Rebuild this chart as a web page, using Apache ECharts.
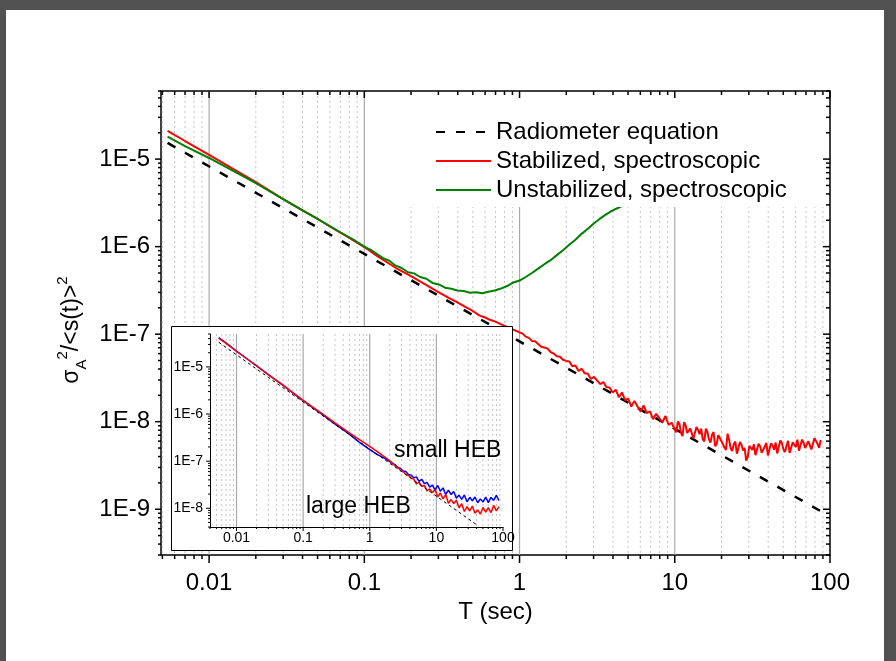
<!DOCTYPE html>
<html>
<head>
<meta charset="utf-8">
<script src="https://cdn.jsdelivr.net/npm/echarts@6/dist/echarts.min.js"></script>
<style>
  html, body { margin: 0; padding: 0; background: #525252; }
  #paper { position: absolute; left: 6px; top: 10px; width: 878px; height: 651px; background: #fff; }
  #main { position: absolute; left: 0; top: 0; width: 896px; height: 661px; }
</style>
</head>
<body>
<div id="paper"></div>
<div id="main"></div>
<script>
// ---- data ----
var radiometerT = [0.0054, 90];
var radiometerV = [1.53e-5, 9.2e-10];

var stabT = [0.0054, 0.007, 0.01, 0.015, 0.02, 0.03, 0.04, 0.05, 0.07, 0.1, 0.12, 0.135, 0.16, 0.2, 0.25, 0.3, 0.35, 0.4, 0.45, 0.5, 0.55, 0.6, 0.65, 0.7, 0.75, 0.85,
  1.0, 1.047, 1.096, 1.148, 1.202, 1.259, 1.318, 1.38, 1.445, 1.514, 1.585, 1.66, 1.738, 1.82, 1.905, 1.995,
  2.089, 2.188, 2.291, 2.399, 2.512, 2.63, 2.754, 2.884, 3.02, 3.162, 3.311, 3.467, 3.631, 3.802, 3.981,
  4.169, 4.365, 4.571, 4.786, 5.012, 5.248, 5.495, 5.754, 6.026, 6.31, 6.607, 6.918, 7.244, 7.586, 7.943, 8.318, 8.71, 9.12, 9.55, 10.0,
  10.47, 10.96, 11.48, 12.02, 12.59, 13.18, 13.8, 14.45, 15.14, 15.85, 16.6, 17.38, 18.2, 19.05, 19.95, 20.89, 21.88, 22.91, 23.99, 25.12,
  26.3, 27.54, 28.84, 30.2, 31.62, 33.11, 34.67, 36.31, 38.02, 39.81, 41.69, 43.65, 45.71, 47.86, 50.12, 52.48, 54.95, 57.54, 60.26, 63.1,
  66.07, 69.18, 72.44, 75.86, 79.43, 83.18, 87.1];
var stabV = [2.1e-5, 1.61e-5, 1.12e-5, 7.35e-6, 5.45e-6, 3.5e-6, 2.6e-6, 2.07e-6, 1.45e-6, 9.9e-7, 7.9e-7, 6.9e-7, 5.7e-7, 4.6e-7, 3.65e-7, 3.03e-7, 2.6e-7, 2.3e-7, 2.04e-7, 1.84e-7, 1.64e-7, 1.55e-7, 1.45e-7, 1.39e-7, 1.31e-7, 1.19e-7,
  1.05e-7, 1.015e-7, 9.37e-8, 9.08e-8, 8.38e-8, 8.29e-8, 7.73e-8, 7.2e-8, 7.05e-8, 6.84e-8, 6.25e-8, 6.0e-8, 5.59e-8, 5.53e-8, 5.1e-8, 4.95e-8,
  4.89e-8, 4.3e-8, 4.38e-8, 3.8e-8, 4.03e-8, 3.57e-8, 3.54e-8, 3.07e-8, 3.26e-8, 2.95e-8, 2.69e-8, 2.84e-8, 2.47e-8, 2.46e-8, 2.15e-8,
  2.32e-8, 1.9e-8, 2.16e-8, 1.76e-8, 1.83e-8, 1.49e-8, 1.73e-8, 1.49e-8, 1.31e-8, 1.53e-8, 1.25e-8, 1.31e-8, 1.07e-8, 1.23e-8, 1.1e-8, 9.82e-9, 1.16e-8, 9.22e-9, 9.72e-9, 8.12e-9,
  1.006e-8, 7.47e-9, 9.89e-9, 7.44e-9, 8.38e-9, 6.43e-9, 8.71e-9, 7.19e-9, 6.31e-9, 8.34e-9, 6.31e-9, 7.08e-9, 5.25e-9, 7.04e-9, 6.01e-9, 5.07e-9, 7.29e-9, 4.98e-9, 5.54e-9, 4.31e-9,
  5.85e-9, 4.69e-9, 3.6e-9, 5.31e-9, 4.75e-9, 4.15e-9, 5.59e-9, 4.42e-9, 5.21e-9, 4.12e-9, 5.66e-9, 4.78e-9, 4.34e-9, 6.11e-9, 4.81e-9, 5.33e-9, 4.39e-9, 5.83e-9, 5.15e-9, 4.67e-9,
  6.24e-9, 5.01e-9, 5.99e-9, 4.82e-9, 6.49e-9, 5.56e-9, 6.18e-9];
// extra samples in the noisy tail (between the ones above)
var stabTailT = [10.23, 10.72, 11.22, 11.75, 12.3, 12.88, 13.49, 14.13, 14.79, 15.49, 16.22, 16.98, 17.78, 18.62, 19.5, 20.42,
  21.38, 22.39, 23.44, 24.55, 25.7, 26.92, 28.18, 29.51, 30.9, 32.36, 33.88, 35.48, 37.15, 38.9, 40.74, 42.66,
  44.67, 46.77, 48.98, 51.29, 53.7, 56.23, 58.88, 61.66, 64.57, 67.61, 70.79, 74.13, 77.62, 81.28, 85.11];
var stabTailV = [7.55e-9, 9.48e-9, 6.86e-9, 9.09e-9, 7.09e-9, 8.73e-9, 6.5e-9, 8.01e-9, 8.31e-9, 5.95e-9, 7.62e-9, 5.76e-9, 7.61e-9, 5.54e-9, 6.7e-9, 5.8e-9,
  4.77e-9, 6.24e-9, 4.63e-9, 5.92e-9, 4.46e-9, 5.45e-9, 5.02e-9, 3.95e-9, 5.16e-9, 5.51e-9, 4.03e-9, 5.24e-9, 4.34e-9, 5.71e-9, 4.14e-9, 5.35e-9,
  5.78e-9, 4.36e-9, 5.69e-9, 4.52e-9, 6.05e-9, 4.45e-9, 5.69e-9, 6.23e-9, 4.49e-9, 5.75e-9, 4.78e-9, 6.24e-9, 5.02e-9, 6.64e-9, 5.03e-9];

var unstabT = [0.0054, 0.007, 0.01, 0.015, 0.02, 0.03, 0.04, 0.05, 0.07, 0.085,
  0.1, 0.11, 0.12, 0.132, 0.145, 0.158, 0.174, 0.191, 0.209, 0.229, 0.251, 0.275, 0.302, 0.331, 0.363, 0.398, 0.437, 0.479, 0.525, 0.575,
  0.631, 0.692, 0.759, 0.832, 0.912, 1.0, 1.096, 1.202, 1.318, 1.445, 1.585, 1.738, 1.905, 2.089, 2.291, 2.512, 2.754, 3.02, 3.311, 3.631,
  3.981, 4.365, 4.786, 5.248, 5.754];
var unstabV = [1.81e-5, 1.41e-5, 1.03e-5, 7.0e-6, 5.3e-6, 3.5e-6, 2.6e-6, 2.07e-6, 1.46e-6, 1.2e-6,
  1.0e-6, 9.2e-7, 8.3e-7, 7.4e-7, 6.9e-7, 6.1e-7, 5.7e-7, 5.1e-7, 4.95e-7, 4.5e-7, 4.3e-7, 3.85e-7, 3.7e-7, 3.4e-7, 3.3e-7, 3.15e-7, 3.12e-7, 2.98e-7, 3.02e-7, 2.94e-7,
  3.06e-7, 3.15e-7, 3.32e-7, 3.55e-7, 3.9e-7, 4.1e-7, 4.5e-7, 5.0e-7, 5.6e-7, 6.3e-7, 7.0e-7, 8.0e-7, 9.1e-7, 1.05e-6, 1.2e-6, 1.4e-6, 1.6e-6, 1.85e-6, 2.1e-6, 2.35e-6,
  2.6e-6, 2.8e-6, 3.05e-6, 3.3e-6, 3.55e-6];

// inset
var insetRadT = [0.0054, 40];
var insetRadV = [3.35e-5, 4.5e-9];
var insetT = [0.0054, 0.007, 0.01, 0.015, 0.02, 0.03, 0.05, 0.07, 0.1, 0.15, 0.2, 0.3, 0.5, 0.7, 1, 1.25, 1.5, 1.75, 2.0,
  2.188, 2.399, 2.63, 2.884, 3.162, 3.467, 3.802, 4.169, 4.571, 5.012, 5.495, 6.026, 6.607, 7.244, 7.943, 8.71, 9.55, 10.47, 11.48, 12.59,
  13.8, 15.14, 16.6, 18.2, 19.95, 21.88, 23.99, 26.3, 28.84, 31.62, 34.67, 38.02, 41.69, 45.71, 50.12, 54.95, 60.26, 66.07, 72.44, 79.43, 87.1];
var largeV = [4.1e-5, 3.15e-5, 2.15e-5, 1.42e-5, 1.06e-5, 6.9e-6, 4.1e-6, 2.85e-6, 1.95e-6, 1.3e-6, 9.8e-7, 6.5e-7, 3.95e-7, 2.88e-7, 2.05e-7, 1.65e-7, 1.38e-7, 1.17e-7, 1.02e-7,
  9.18e-8, 7.86e-8, 7.49e-8, 6.37e-8, 6.08e-8, 5.18e-8, 5.0e-8, 4.36e-8, 4.16e-8, 3.31e-8, 3.6e-8, 2.9e-8, 3.08e-8, 2.34e-8, 2.57e-8, 2.14e-8, 2.49e-8, 1.74e-8, 2.11e-8, 1.58e-8,
  1.96e-8, 1.28e-8, 1.53e-8, 1.26e-8, 1.48e-8, 1.02e-8, 1.25e-8, 8.53e-9, 1.08e-8, 8.74e-9, 1.11e-8, 7.83e-9, 9.24e-9, 7.48e-9, 1.04e-8, 8.28e-9, 1.03e-8, 8.08e-9, 1.15e-8, 8.82e-9, 1.08e-8];
var smallV = [4.2e-5, 3.2e-5, 2.17e-5, 1.42e-5, 1.05e-5, 6.85e-6, 4.05e-6, 2.8e-6, 1.92e-6, 1.27e-6, 9.5e-7, 6.2e-7, 3.7e-7, 2.5e-7, 1.75e-7, 1.42e-7, 1.25e-7, 1.1e-7, 9.8e-8,
  8.91e-8, 8.45e-8, 7.28e-8, 7.04e-8, 6.17e-8, 6.03e-8, 5.19e-8, 5.05e-8, 4.42e-8, 4.64e-8, 3.72e-8, 4.13e-8, 3.33e-8, 3.53e-8, 2.82e-8, 3.1e-8, 2.46e-8, 3.04e-8, 2.29e-8, 2.71e-8,
  1.96e-8, 2.42e-8, 1.96e-8, 2.26e-8, 1.64e-8, 1.9e-8, 1.55e-8, 1.92e-8, 1.37e-8, 1.71e-8, 1.44e-8, 1.73e-8, 1.31e-8, 1.58e-8, 1.35e-8, 1.72e-8, 1.32e-8, 1.7e-8, 1.47e-8, 1.87e-8, 1.46e-8];

// ticks
var xMajor = [0.01, 0.1, 1, 10, 100];
var xMinor = [0.005, 0.006, 0.007, 0.008, 0.009, 0.02, 0.03, 0.04, 0.05, 0.06, 0.07, 0.08, 0.09,
  0.2, 0.3, 0.4, 0.5, 0.6, 0.7, 0.8, 0.9, 2, 3, 4, 5, 6, 7, 8, 9, 20, 30, 40, 50, 60, 70, 80, 90];
var yMajor = [1e-9, 1e-8, 1e-7, 1e-6, 1e-5];
var yMinor = [3e-10, 4e-10, 5e-10, 6e-10, 7e-10, 8e-10, 9e-10,
  2e-9, 3e-9, 4e-9, 5e-9, 6e-9, 7e-9, 8e-9, 9e-9, 2e-8, 3e-8, 4e-8, 5e-8, 6e-8, 7e-8, 8e-8, 9e-8,
  2e-7, 3e-7, 4e-7, 5e-7, 6e-7, 7e-7, 8e-7, 9e-7, 2e-6, 3e-6, 4e-6, 5e-6, 6e-6, 7e-6, 8e-6, 9e-6,
  2e-5, 3e-5, 4e-5, 5e-5, 6e-5];
var insetXMinor = [0.004, 0.005, 0.006, 0.007, 0.008, 0.009, 0.02, 0.03, 0.04, 0.05, 0.06, 0.07, 0.08, 0.09,
  0.2, 0.3, 0.4, 0.5, 0.6, 0.7, 0.8, 0.9, 2, 3, 4, 5, 6, 7, 8, 9, 20, 30, 40, 50, 60, 70, 80, 90];
var insetYMajor = [1e-8, 1e-7, 1e-6, 1e-5];
var insetYMinor = [4e-9, 5e-9, 6e-9, 7e-9, 8e-9, 9e-9, 2e-8, 3e-8, 4e-8, 5e-8, 6e-8, 7e-8, 8e-8, 9e-8,
  2e-7, 3e-7, 4e-7, 5e-7, 6e-7, 7e-7, 8e-7, 9e-7, 2e-6, 3e-6, 4e-6, 5e-6, 6e-6, 7e-6, 8e-6, 9e-6,
  2e-5, 3e-5, 4e-5, 5e-5];

var FONT = '"Liberation Sans", Arial, sans-serif';

function zip(t, v) {
  var out = [];
  for (var i = 0; i < Math.min(t.length, v.length); i++) out.push([t[i], v[i]]);
  return out;
}
function byT(a, b) { return a[0] - b[0]; }
function seg(x1, y1, x2, y2, style) {
  return { type: 'line', shape: { x1: x1, y1: y1, x2: x2, y2: y2 }, style: style };
}

// vertical grid lines / x ticks drawn through the axis scale
function xMarks(idx, values, o) {
  return {
    type: 'custom', xAxisIndex: idx, yAxisIndex: idx, z: o.z, silent: true,
    data: values.map(function (v) { return [v, 1e-7]; }),
    renderItem: function (params, api) {
      var cs = params.coordSys;
      var x = api.coord([api.value(0), api.value(1)])[0];
      var t = cs.y, b = cs.y + cs.height, kids = [];
      if (o.grid && x > cs.x + 1 && x < cs.x + cs.width - 1) kids.push(seg(x, t, x, b, o.grid));
      var ts = { stroke: '#000', lineWidth: o.w || 1.5 };
      if (o.down) kids.push(seg(x, b, x, b + o.down, ts));
      if (o.up) kids.push(seg(x, t, x, t + o.up, ts));
      return { type: 'group', children: kids };
    }
  };
}
function yMarks(idx, values, o) {
  return {
    type: 'custom', xAxisIndex: idx, yAxisIndex: idx, z: o.z, silent: true,
    data: values.map(function (v) { return [1, v]; }),
    renderItem: function (params, api) {
      var cs = params.coordSys;
      var y = api.coord([api.value(0), api.value(1)])[1];
      var l = cs.x, r = cs.x + cs.width, kids = [];
      var ts = { stroke: '#000', lineWidth: o.w || 1.5 };
      if (o.left) kids.push(seg(l - o.left, y, l, y, ts));
      if (o.right) kids.push(seg(r - o.right, y, r, y, ts));
      return { type: 'group', children: kids };
    }
  };
}

var majorGrid = { stroke: '#a9a9a9', lineWidth: 1.2 };
var minorGrid = { stroke: '#c4c4c4', lineWidth: 1, lineDash: [2, 3] };

function xFmt(v) { return v >= 1 ? String(Math.round(v)) : String(+v.toPrecision(1)); }
function yFmt(v) { return '1E' + Math.round(Math.log10(v)); }

var chart = echarts.init(document.getElementById('main'));
chart.setOption({
  animation: false,
  grid: [
    { left: 161, top: 91, right: 66, bottom: 106, show: true, borderColor: '#000', borderWidth: 1.5, outerBoundsMode: 'none' },
    { left: 210, top: 334, right: 393, bottom: 134, outerBoundsMode: 'none' }
  ],
  xAxis: [
    {
      type: 'log', gridIndex: 0, min: 0.0049, max: 100,
      axisLine: { show: false }, axisTick: { show: false }, splitLine: { show: false },
      axisLabel: { color: '#000', fontSize: 24, fontFamily: FONT, margin: 16, showMinLabel: false, showMaxLabel: true, formatter: xFmt },
      name: 'T (sec)', nameLocation: 'middle', nameGap: 45, nameMoveOverlap: false,
      nameTextStyle: { color: '#000', fontSize: 24, fontFamily: FONT }
    },
    {
      type: 'log', gridIndex: 1, min: 0.004, max: 100, z: 11,
      axisLine: { show: true, lineStyle: { color: '#000', width: 1 } }, axisTick: { show: false }, splitLine: { show: false },
      axisLabel: { color: '#000', fontSize: 14, fontFamily: FONT, margin: 4, showMinLabel: false, showMaxLabel: true, formatter: xFmt }
    }
  ],
  yAxis: [
    {
      type: 'log', gridIndex: 0, min: 3e-10, max: 6e-5,
      axisLine: { show: false }, axisTick: { show: false }, splitLine: { show: false },
      axisLabel: { color: '#000', fontSize: 24, fontFamily: FONT, margin: 11, showMinLabel: false, showMaxLabel: false, formatter: yFmt },
      name: '{b|σ}{sub|A}{sup|2}{b|/<s(t)>}{sup|2}',
      nameLocation: 'middle', nameRotate: 90, nameGap: 72, nameMoveOverlap: false,
      nameTextStyle: {
        color: '#000', fontFamily: FONT, padding: [0, 14, 0, 0],
        rich: {
          b: { fontSize: 23, lineHeight: 34, fontFamily: FONT, color: '#000' },
          sub: { fontSize: 15, lineHeight: 16, verticalAlign: 'bottom', fontFamily: FONT, color: '#000' },
          sup: { fontSize: 15, lineHeight: 16, verticalAlign: 'top', fontFamily: FONT, color: '#000' }
        }
      }
    },
    {
      type: 'log', gridIndex: 1, min: 4e-9, max: 5e-5, z: 11,
      axisLine: { show: true, lineStyle: { color: '#000', width: 1 } }, axisTick: { show: false }, splitLine: { show: false },
      axisLabel: { color: '#000', fontSize: 14, fontFamily: FONT, margin: 7, showMinLabel: false, showMaxLabel: false, formatter: yFmt }
    }
  ],
  legend: {
    orient: 'vertical', left: 400, top: 92, padding: [28, 40, 5, 35],
    backgroundColor: '#fff', z: 20, selectedMode: false,
    itemWidth: 55, itemHeight: 14, itemGap: 5,
    itemStyle: { opacity: 0 },
    textStyle: { color: '#000', fontSize: 24, lineHeight: 24, fontFamily: FONT },
    data: ['Radiometer equation', 'Stabilized, spectroscopic', 'Unstabilized, spectroscopic']
  },
  graphic: [
    { type: 'rect', z: 10, shape: { x: 171.5, y: 326.5, width: 341, height: 224 }, style: { fill: '#fff', stroke: '#000', lineWidth: 1 } },
    { type: 'text', z: 14, style: { text: 'small HEB', x: 394, y: 451, fontSize: 23, fontFamily: FONT, fill: '#000', verticalAlign: 'middle' } },
    { type: 'text', z: 14, style: { text: 'large HEB', x: 306, y: 507, fontSize: 23, fontFamily: FONT, fill: '#000', verticalAlign: 'middle' } }
  ],
  series: [
    // main chart grid and ticks
    xMarks(0, xMinor, { z: 1, grid: minorGrid }),
    xMarks(0, xMajor, { z: 1, grid: majorGrid }),
    xMarks(0, xMinor, { z: 21, down: 4, up: 4 }),
    xMarks(0, xMajor, { z: 21, down: 8, up: 7 }),
    yMarks(0, yMinor, { z: 21, left: 3, right: 4 }),
    yMarks(0, yMajor, { z: 21, left: 6, right: 7 }),
    {
      name: 'Radiometer equation', type: 'line', z: 3, symbol: 'none', showSymbol: false,
      data: zip(radiometerT, radiometerV),
      itemStyle: { color: '#000' }, lineStyle: { color: '#000', width: 2.5, type: [9, 11] }
    },
    {
      name: 'Stabilized, spectroscopic', type: 'line', z: 3, symbol: 'none', showSymbol: false,
      data: zip(stabT, stabV).concat(zip(stabTailT, stabTailV)).sort(byT),
      itemStyle: { color: '#ff0000' }, lineStyle: { color: '#ff0000', width: 2 }
    },
    {
      name: 'Unstabilized, spectroscopic', type: 'line', z: 3, symbol: 'none', showSymbol: false,
      data: zip(unstabT, unstabV),
      itemStyle: { color: '#008000' }, lineStyle: { color: '#008000', width: 2 }
    },
    // inset grid and ticks
    xMarks(1, insetXMinor, { z: 11, grid: minorGrid }),
    xMarks(1, xMajor, { z: 11, grid: majorGrid }),
    xMarks(1, insetXMinor, { z: 12, down: 2, w: 1 }),
    xMarks(1, xMajor, { z: 12, down: 4, w: 1 }),
    yMarks(1, insetYMinor, { z: 12, left: 2, w: 1 }),
    yMarks(1, insetYMajor, { z: 12, left: 4, w: 1 }),
    {
      name: 'small HEB', type: 'line', xAxisIndex: 1, yAxisIndex: 1, z: 12, symbol: 'none', showSymbol: false,
      data: zip(insetT, smallV), lineStyle: { color: '#0000ff', width: 1.5 }
    },
    {
      name: 'large HEB', type: 'line', xAxisIndex: 1, yAxisIndex: 1, z: 12, symbol: 'none', showSymbol: false,
      data: zip(insetT, largeV), lineStyle: { color: '#ff0000', width: 1.5 }
    },
    {
      name: 'inset radiometer', type: 'line', xAxisIndex: 1, yAxisIndex: 1, z: 13, symbol: 'none', showSymbol: false,
      data: zip(insetRadT, insetRadV), lineStyle: { color: '#000', width: 1, type: [3, 3] }
    }
  ]
});
</script>
</body>
</html>
